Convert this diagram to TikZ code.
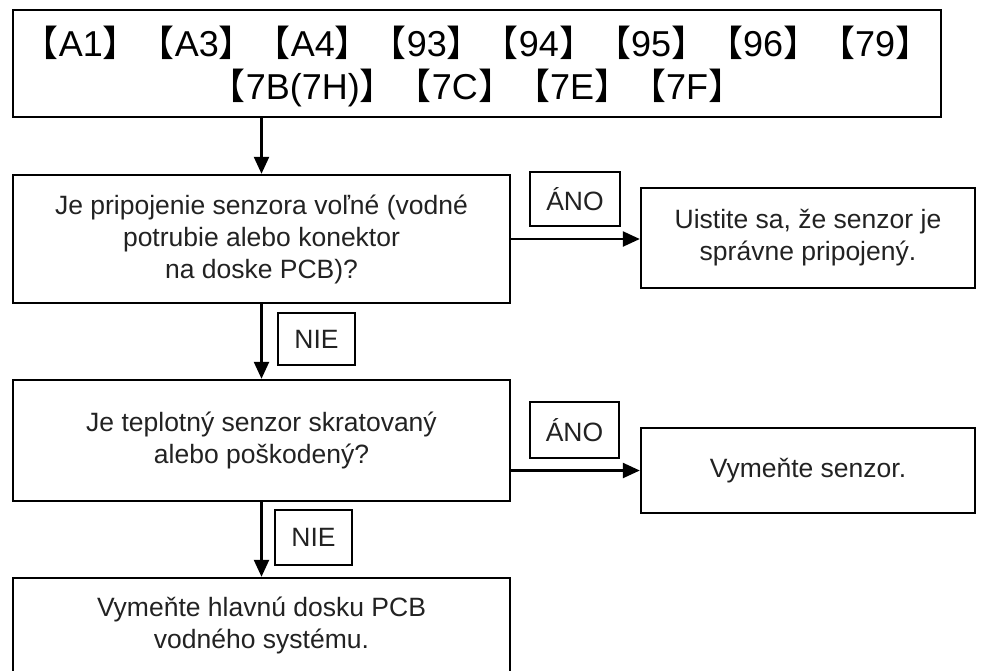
\documentclass[tikz,border=0pt]{standalone}
\usepackage{fontspec}
\setmainfont{Liberation Sans}
\newfontfamily\cjk{Noto Sans CJK SC}
\usetikzlibrary{arrows.meta}
\newcommand{\lbr}[1]{{\cjk 【}#1{\cjk 】}}
\definecolor{ink}{HTML}{222222}
\tikzset{
  box/.style={draw=black, line width=2.4pt, rectangle, inner sep=0pt,
    text=ink, align=center, font=\fontsize{26.5}{32}\selectfont},
  tag/.style={box, line width=2pt},
  flow/.style={line width=2.4pt, -{Triangle[length=17pt,width=15pt]}},
}
\begin{document}
\begin{tikzpicture}[x=1pt,y=-1pt]
  \useasboundingbox (0,0) rectangle (986,670);
  \clip (0,0) rectangle (986,670);
  \fill[white] (0,0) rectangle (986,670);

  % codes
  \node[box, minimum width=928pt, minimum height=107pt] (codes) at (477,63.5) {};
  \node[text=black, align=center, font=\fontsize{36}{43}\selectfont] (codest) at (477,66.5)
    {\lbr{A1}\lbr{A3}\lbr{A4}\lbr{93}\lbr{94}\lbr{95}\lbr{96}\lbr{79}\\
     \lbr{7B(7H)}\lbr{7C}\lbr{7E}\lbr{7F}};

  % first check
  \node[box, minimum width=497pt, minimum height=128pt] (q1) at (261.5,239)
    {Je pripojenie senzora voľné (vodné\\potrubie alebo konektor\\ na doske PCB)?};
  \node[tag, minimum width=90pt, minimum height=54pt] (y1) at (575,199) {ÁNO};
  \node[box, minimum width=334pt, minimum height=100pt] (fix1) at (808,238)
    {Uistite sa, že senzor je\\správne pripojený.};
  \node[tag, minimum width=77pt, minimum height=52pt] (n1) at (316.5,339) {NIE};

  % second check
  \node[box, minimum width=497pt, minimum height=121pt] (q2) at (261.5,440.5)
    {Je teplotný senzor skratovaný\\alebo poškodený?};
  \node[tag, minimum width=89pt, minimum height=56pt] (y2) at (574.5,430) {ÁNO};
  \node[box, minimum width=334pt, minimum height=85pt] (fix2) at (808,470.5)
    {Vymeňte senzor.};
  \node[tag, minimum width=77pt, minimum height=55pt] (n2) at (313.5,537.5) {NIE};

  % last step (runs past the lower edge)
  \node[box, minimum width=497pt, minimum height=130pt] (fix3) at (261.5,643) {};
  \node[text=ink, align=center, font=\fontsize{26.5}{32}\selectfont] (fix3t) at (261.5,625)
    {Vymeňte hlavnú dosku PCB\\vodného systému.};

  % connectors
  \draw[flow] (codes.south -| q1.north) -- (q1.north);
  \draw[flow] (q1.east) -- (q1.east -| fix1.west);
  \draw[flow] (q1.south) -- (q2.north);
  \draw[flow] (fix2.west -| q2.east) -- (fix2.west);
  \draw[flow] (q2.south) -- (fix3.north);
\end{tikzpicture}
\end{document}
